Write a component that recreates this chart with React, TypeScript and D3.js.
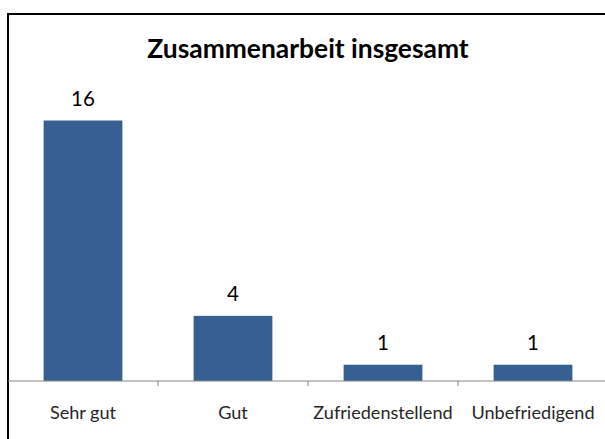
import React from "react";
import * as d3 from "d3";

// Zusammenarbeit insgesamt – Anzahl der Antworten
const categories = ["Sehr gut", "Gut", "Zufriedenstellend", "Unbefriedigend"];
const counts = [16, 4, 1, 1];
const title = "Zusammenarbeit insgesamt";

const W = 605;
const H = 439;

export default function App() {
  const left = 8;
  const right = 608;
  const baseline = 381;

  const x = d3.scaleBand<string>()
    .domain(categories)
    .range([left, right])
    .paddingInner(0.475)
    .paddingOuter(0.2375);

  const y = d3.scaleLinear()
    .domain([0, 16])
    .range([baseline, 120.5]);

  const step = x.step();
  // tick marks sit between the categories
  const ticks = categories.slice(1).map(c => (x(c) as number) - x.paddingInner() * step / 2);

  const font = "Lato, 'Open Sans', sans-serif";

  return (
    <svg width={W} height={H} style={{ position: "absolute", left: 0, top: 0, background: "#fff" }}>
      <rect x={8} y={14} width={W} height={H} fill="#fff" stroke="#000" strokeWidth={2} />
      <text x={308} y={58} textAnchor="middle" fontFamily={font} fontWeight="bold" fontSize={26.4} fill="#000">
        {title}
      </text>
      {categories.map((c, i) => (
        <g key={c}>
          <rect
            x={x(c)}
            y={y(counts[i])}
            width={x.bandwidth()}
            height={baseline - y(counts[i])}
            fill="#376092"
          />
          <text
            x={(x(c) as number) + x.bandwidth() / 2}
            y={y(counts[i]) - 15}
            textAnchor="middle"
            fontFamily={font}
            fontSize={20.5}
            fill="#000"
          >
            {counts[i]}
          </text>
          <text
            x={(x(c) as number) + x.bandwidth() / 2}
            y={419}
            textAnchor="middle"
            fontFamily={font}
            fontSize={18.1}
            fill="#262626"
          >
            {c}
          </text>
        </g>
      ))}
      <line x1={left} x2={W} y1={baseline} y2={baseline} stroke="#868686" strokeWidth={1} />
      {ticks.map((t, i) => (
        <line key={i} x1={t} x2={t} y1={baseline} y2={baseline + 5} stroke="#868686" strokeWidth={1} />
      ))}
    </svg>
  );
}
